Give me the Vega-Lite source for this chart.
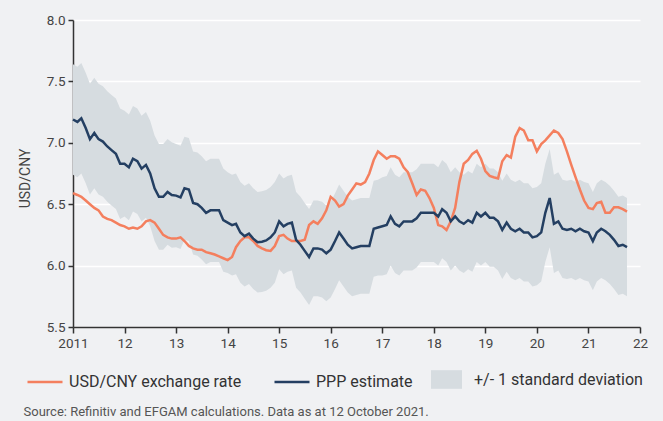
{
  "$schema": "https://vega.github.io/schema/vega-lite/v6.json",
  "width": 567,
  "height": 307,
  "autosize": {"type": "none"},
  "padding": {"left": 73, "top": 20, "right": 23, "bottom": 94},
  "background": "#f0f1f3",
  "config": {
    "view": {"stroke": null},
    "font": "Roboto"
  },
  "data": {
    "values": [
      {"d": "2011-01", "fx": 6.59, "ppp": 7.19, "lo": 6.74, "hi": 7.64},
      {"d": "2011-02", "fx": 6.575, "ppp": 7.17, "lo": 6.72, "hi": 7.62},
      {"d": "2011-03", "fx": 6.56, "ppp": 7.2, "lo": 6.75, "hi": 7.65},
      {"d": "2011-04", "fx": 6.53, "ppp": 7.12, "lo": 6.67, "hi": 7.57},
      {"d": "2011-05", "fx": 6.5, "ppp": 7.03, "lo": 6.58, "hi": 7.48},
      {"d": "2011-06", "fx": 6.47, "ppp": 7.08, "lo": 6.63, "hi": 7.53},
      {"d": "2011-07", "fx": 6.45, "ppp": 7.03, "lo": 6.58, "hi": 7.48},
      {"d": "2011-08", "fx": 6.4, "ppp": 7.01, "lo": 6.56, "hi": 7.46},
      {"d": "2011-09", "fx": 6.38, "ppp": 6.97, "lo": 6.52, "hi": 7.42},
      {"d": "2011-10", "fx": 6.37, "ppp": 6.94, "lo": 6.49, "hi": 7.39},
      {"d": "2011-11", "fx": 6.35, "ppp": 6.91, "lo": 6.46, "hi": 7.36},
      {"d": "2011-12", "fx": 6.33, "ppp": 6.83, "lo": 6.38, "hi": 7.28},
      {"d": "2012-01", "fx": 6.32, "ppp": 6.83, "lo": 6.4, "hi": 7.26},
      {"d": "2012-02", "fx": 6.3, "ppp": 6.8, "lo": 6.37, "hi": 7.23},
      {"d": "2012-03", "fx": 6.31, "ppp": 6.87, "lo": 6.44, "hi": 7.3},
      {"d": "2012-04", "fx": 6.3, "ppp": 6.85, "lo": 6.42, "hi": 7.28},
      {"d": "2012-05", "fx": 6.32, "ppp": 6.79, "lo": 6.36, "hi": 7.22},
      {"d": "2012-06", "fx": 6.36, "ppp": 6.82, "lo": 6.39, "hi": 7.25},
      {"d": "2012-07", "fx": 6.37, "ppp": 6.75, "lo": 6.32, "hi": 7.18},
      {"d": "2012-08", "fx": 6.35, "ppp": 6.63, "lo": 6.2, "hi": 7.06},
      {"d": "2012-09", "fx": 6.3, "ppp": 6.56, "lo": 6.13, "hi": 6.99},
      {"d": "2012-10", "fx": 6.25, "ppp": 6.56, "lo": 6.13, "hi": 6.99},
      {"d": "2012-11", "fx": 6.23, "ppp": 6.6, "lo": 6.17, "hi": 7.03},
      {"d": "2012-12", "fx": 6.22, "ppp": 6.575, "lo": 6.145, "hi": 7.005},
      {"d": "2013-01", "fx": 6.22, "ppp": 6.57, "lo": 6.15, "hi": 6.99},
      {"d": "2013-02", "fx": 6.23, "ppp": 6.555, "lo": 6.135, "hi": 6.975},
      {"d": "2013-03", "fx": 6.2, "ppp": 6.63, "lo": 6.21, "hi": 7.05},
      {"d": "2013-04", "fx": 6.16, "ppp": 6.62, "lo": 6.2, "hi": 7.04},
      {"d": "2013-05", "fx": 6.14, "ppp": 6.51, "lo": 6.09, "hi": 6.93},
      {"d": "2013-06", "fx": 6.13, "ppp": 6.5, "lo": 6.08, "hi": 6.92},
      {"d": "2013-07", "fx": 6.13, "ppp": 6.47, "lo": 6.05, "hi": 6.89},
      {"d": "2013-08", "fx": 6.11, "ppp": 6.43, "lo": 6.01, "hi": 6.85},
      {"d": "2013-09", "fx": 6.1, "ppp": 6.45, "lo": 6.03, "hi": 6.87},
      {"d": "2013-10", "fx": 6.09, "ppp": 6.45, "lo": 6.03, "hi": 6.87},
      {"d": "2013-11", "fx": 6.075, "ppp": 6.45, "lo": 6.03, "hi": 6.87},
      {"d": "2013-12", "fx": 6.06, "ppp": 6.37, "lo": 5.95, "hi": 6.79},
      {"d": "2014-01", "fx": 6.045, "ppp": 6.35, "lo": 5.94, "hi": 6.76},
      {"d": "2014-02", "fx": 6.07, "ppp": 6.33, "lo": 5.92, "hi": 6.74},
      {"d": "2014-03", "fx": 6.15, "ppp": 6.34, "lo": 5.93, "hi": 6.75},
      {"d": "2014-04", "fx": 6.2, "ppp": 6.27, "lo": 5.86, "hi": 6.68},
      {"d": "2014-05", "fx": 6.23, "ppp": 6.24, "lo": 5.83, "hi": 6.65},
      {"d": "2014-06", "fx": 6.23, "ppp": 6.26, "lo": 5.85, "hi": 6.67},
      {"d": "2014-07", "fx": 6.2, "ppp": 6.22, "lo": 5.81, "hi": 6.63},
      {"d": "2014-08", "fx": 6.16, "ppp": 6.19, "lo": 5.78, "hi": 6.6},
      {"d": "2014-09", "fx": 6.14, "ppp": 6.195, "lo": 5.785, "hi": 6.605},
      {"d": "2014-10", "fx": 6.125, "ppp": 6.205, "lo": 5.795, "hi": 6.615},
      {"d": "2014-11", "fx": 6.12, "ppp": 6.23, "lo": 5.82, "hi": 6.64},
      {"d": "2014-12", "fx": 6.16, "ppp": 6.27, "lo": 5.86, "hi": 6.68},
      {"d": "2015-01", "fx": 6.24, "ppp": 6.36, "lo": 5.97, "hi": 6.75},
      {"d": "2015-02", "fx": 6.25, "ppp": 6.32, "lo": 5.93, "hi": 6.71},
      {"d": "2015-03", "fx": 6.22, "ppp": 6.34, "lo": 5.95, "hi": 6.73},
      {"d": "2015-04", "fx": 6.2, "ppp": 6.35, "lo": 5.96, "hi": 6.74},
      {"d": "2015-05", "fx": 6.2, "ppp": 6.21, "lo": 5.82, "hi": 6.6},
      {"d": "2015-06", "fx": 6.2, "ppp": 6.17, "lo": 5.78, "hi": 6.56},
      {"d": "2015-07", "fx": 6.21, "ppp": 6.12, "lo": 5.73, "hi": 6.51},
      {"d": "2015-08", "fx": 6.33, "ppp": 6.07, "lo": 5.68, "hi": 6.46},
      {"d": "2015-09", "fx": 6.36, "ppp": 6.14, "lo": 5.75, "hi": 6.53},
      {"d": "2015-10", "fx": 6.34, "ppp": 6.14, "lo": 5.75, "hi": 6.53},
      {"d": "2015-11", "fx": 6.385, "ppp": 6.13, "lo": 5.74, "hi": 6.52},
      {"d": "2015-12", "fx": 6.45, "ppp": 6.1, "lo": 5.71, "hi": 6.49},
      {"d": "2016-01", "fx": 6.56, "ppp": 6.13, "lo": 5.74, "hi": 6.52},
      {"d": "2016-02", "fx": 6.53, "ppp": 6.2, "lo": 5.81, "hi": 6.59},
      {"d": "2016-03", "fx": 6.48, "ppp": 6.27, "lo": 5.88, "hi": 6.66},
      {"d": "2016-04", "fx": 6.5, "ppp": 6.22, "lo": 5.83, "hi": 6.61},
      {"d": "2016-05", "fx": 6.57, "ppp": 6.17, "lo": 5.78, "hi": 6.56},
      {"d": "2016-06", "fx": 6.62, "ppp": 6.14, "lo": 5.75, "hi": 6.53},
      {"d": "2016-07", "fx": 6.67, "ppp": 6.15, "lo": 5.76, "hi": 6.54},
      {"d": "2016-08", "fx": 6.66, "ppp": 6.16, "lo": 5.77, "hi": 6.55},
      {"d": "2016-09", "fx": 6.68, "ppp": 6.16, "lo": 5.77, "hi": 6.55},
      {"d": "2016-10", "fx": 6.75, "ppp": 6.16, "lo": 5.77, "hi": 6.55},
      {"d": "2016-11", "fx": 6.86, "ppp": 6.3, "lo": 5.91, "hi": 6.69},
      {"d": "2016-12", "fx": 6.93, "ppp": 6.31, "lo": 5.92, "hi": 6.7},
      {"d": "2017-01", "fx": 6.9, "ppp": 6.32, "lo": 5.92, "hi": 6.72},
      {"d": "2017-02", "fx": 6.87, "ppp": 6.33, "lo": 5.93, "hi": 6.73},
      {"d": "2017-03", "fx": 6.89, "ppp": 6.4, "lo": 6.0, "hi": 6.8},
      {"d": "2017-04", "fx": 6.89, "ppp": 6.34, "lo": 5.94, "hi": 6.74},
      {"d": "2017-05", "fx": 6.87, "ppp": 6.32, "lo": 5.92, "hi": 6.72},
      {"d": "2017-06", "fx": 6.8, "ppp": 6.36, "lo": 5.96, "hi": 6.76},
      {"d": "2017-07", "fx": 6.76, "ppp": 6.36, "lo": 5.96, "hi": 6.76},
      {"d": "2017-08", "fx": 6.67, "ppp": 6.36, "lo": 5.96, "hi": 6.76},
      {"d": "2017-09", "fx": 6.575, "ppp": 6.385, "lo": 5.985, "hi": 6.785},
      {"d": "2017-10", "fx": 6.62, "ppp": 6.43, "lo": 6.03, "hi": 6.83},
      {"d": "2017-11", "fx": 6.61, "ppp": 6.43, "lo": 6.03, "hi": 6.83},
      {"d": "2017-12", "fx": 6.55, "ppp": 6.43, "lo": 6.03, "hi": 6.83},
      {"d": "2018-01", "fx": 6.47, "ppp": 6.43, "lo": 6.03, "hi": 6.83},
      {"d": "2018-02", "fx": 6.33, "ppp": 6.4, "lo": 6.0, "hi": 6.8},
      {"d": "2018-03", "fx": 6.32, "ppp": 6.46, "lo": 6.06, "hi": 6.86},
      {"d": "2018-04", "fx": 6.29, "ppp": 6.43, "lo": 6.03, "hi": 6.83},
      {"d": "2018-05", "fx": 6.36, "ppp": 6.36, "lo": 5.96, "hi": 6.76},
      {"d": "2018-06", "fx": 6.47, "ppp": 6.4, "lo": 6.0, "hi": 6.8},
      {"d": "2018-07", "fx": 6.68, "ppp": 6.36, "lo": 5.96, "hi": 6.76},
      {"d": "2018-08", "fx": 6.83, "ppp": 6.34, "lo": 5.94, "hi": 6.74},
      {"d": "2018-09", "fx": 6.86, "ppp": 6.37, "lo": 5.97, "hi": 6.77},
      {"d": "2018-10", "fx": 6.91, "ppp": 6.35, "lo": 5.95, "hi": 6.75},
      {"d": "2018-11", "fx": 6.935, "ppp": 6.43, "lo": 6.03, "hi": 6.83},
      {"d": "2018-12", "fx": 6.87, "ppp": 6.4, "lo": 6.0, "hi": 6.8},
      {"d": "2019-01", "fx": 6.77, "ppp": 6.43, "lo": 6.03, "hi": 6.83},
      {"d": "2019-02", "fx": 6.73, "ppp": 6.39, "lo": 5.99, "hi": 6.79},
      {"d": "2019-03", "fx": 6.72, "ppp": 6.39, "lo": 5.99, "hi": 6.79},
      {"d": "2019-04", "fx": 6.71, "ppp": 6.36, "lo": 5.96, "hi": 6.76},
      {"d": "2019-05", "fx": 6.85, "ppp": 6.29, "lo": 5.89, "hi": 6.69},
      {"d": "2019-06", "fx": 6.9, "ppp": 6.35, "lo": 5.95, "hi": 6.75},
      {"d": "2019-07", "fx": 6.88, "ppp": 6.3, "lo": 5.9, "hi": 6.7},
      {"d": "2019-08", "fx": 7.05, "ppp": 6.28, "lo": 5.88, "hi": 6.68},
      {"d": "2019-09", "fx": 7.12, "ppp": 6.3, "lo": 5.9, "hi": 6.7},
      {"d": "2019-10", "fx": 7.1, "ppp": 6.27, "lo": 5.87, "hi": 6.67},
      {"d": "2019-11", "fx": 7.02, "ppp": 6.27, "lo": 5.87, "hi": 6.67},
      {"d": "2019-12", "fx": 7.02, "ppp": 6.23, "lo": 5.83, "hi": 6.63},
      {"d": "2020-01", "fx": 6.93, "ppp": 6.24, "lo": 5.84, "hi": 6.64},
      {"d": "2020-02", "fx": 6.99, "ppp": 6.27, "lo": 5.87, "hi": 6.67},
      {"d": "2020-03", "fx": 7.02, "ppp": 6.43, "lo": 6.03, "hi": 6.83},
      {"d": "2020-04", "fx": 7.06, "ppp": 6.55, "lo": 6.15, "hi": 6.95},
      {"d": "2020-05", "fx": 7.1, "ppp": 6.34, "lo": 5.94, "hi": 6.74},
      {"d": "2020-06", "fx": 7.08, "ppp": 6.36, "lo": 5.96, "hi": 6.76},
      {"d": "2020-07", "fx": 7.03, "ppp": 6.3, "lo": 5.9, "hi": 6.7},
      {"d": "2020-08", "fx": 6.93, "ppp": 6.29, "lo": 5.89, "hi": 6.69},
      {"d": "2020-09", "fx": 6.82, "ppp": 6.3, "lo": 5.9, "hi": 6.7},
      {"d": "2020-10", "fx": 6.72, "ppp": 6.28, "lo": 5.88, "hi": 6.68},
      {"d": "2020-11", "fx": 6.62, "ppp": 6.3, "lo": 5.9, "hi": 6.7},
      {"d": "2020-12", "fx": 6.53, "ppp": 6.28, "lo": 5.88, "hi": 6.68},
      {"d": "2021-01", "fx": 6.47, "ppp": 6.27, "lo": 5.87, "hi": 6.67},
      {"d": "2021-02", "fx": 6.46, "ppp": 6.2, "lo": 5.8, "hi": 6.6},
      {"d": "2021-03", "fx": 6.51, "ppp": 6.27, "lo": 5.87, "hi": 6.67},
      {"d": "2021-04", "fx": 6.52, "ppp": 6.3, "lo": 5.9, "hi": 6.7},
      {"d": "2021-05", "fx": 6.43, "ppp": 6.28, "lo": 5.88, "hi": 6.68},
      {"d": "2021-06", "fx": 6.43, "ppp": 6.25, "lo": 5.85, "hi": 6.65},
      {"d": "2021-07", "fx": 6.475, "ppp": 6.21, "lo": 5.81, "hi": 6.61},
      {"d": "2021-08", "fx": 6.475, "ppp": 6.16, "lo": 5.76, "hi": 6.56},
      {"d": "2021-09", "fx": 6.46, "ppp": 6.17, "lo": 5.77, "hi": 6.57},
      {"d": "2021-10", "fx": 6.44, "ppp": 6.15, "lo": 5.75, "hi": 6.55}
    ]
  },
  "encoding": {
    "x": {
      "field": "d",
      "type": "temporal",
      "scale": {
        "type": "utc",
        "domain": [
          {"year": 2011, "month": 1, "date": 1, "utc": true},
          {"year": 2022, "month": 1, "date": 1, "utc": true}
        ]
      },
      "axis": {
        "tickCount": {"interval": "year", "step": 1},
        "labelExpr": "utcFormat(datum.value, '%Y') == '2011' ? '2011' : utcFormat(datum.value, '%y')",
        "grid": false,
        "domainColor": "#333333",
        "domainWidth": 1.5,
        "tickColor": "#333333",
        "tickWidth": 1.5,
        "tickSize": 6,
        "labelFontSize": 13.5,
        "labelColor": "#444444",
        "labelPadding": 3,
        "labelFlush": false,
        "labelOverlap": false,
        "title": "Source: Refinitiv and EFGAM calculations. Data as at 12 October 2021.",
        "titleAnchor": "start",
        "titleAlign": "left",
        "titleX": -50,
        "titleY": 88,
        "titleBaseline": "alphabetic",
        "titleFontSize": 13,
        "titleFontWeight": "normal",
        "titleColor": "#555555",
        "titleLimit": 1000
      }
    }
  },
  "layer": [
    {
      "mark": {"type": "area", "opacity": 1},
      "encoding": {
        "y": {
          "field": "lo",
          "type": "quantitative",
          "scale": {"domain": [5.5, 8], "nice": false, "zero": false},
          "axis": {
            "values": [5.5, 6, 6.5, 7, 7.5, 8],
            "format": ".1f",
            "grid": true,
            "gridColor": "#ffffff",
            "gridWidth": 1.5,
            "domainColor": "#333333",
            "domainWidth": 1.5,
            "tickColor": "#333333",
            "tickWidth": 1.5,
            "tickSize": 5,
            "labelFontSize": 13.5,
            "labelColor": "#444444",
            "labelPadding": 3,
            "title": "USD/CNY",
            "titleX": -48,
            "titleY": 158,
            "titleAngle": 270,
            "titleAlign": "center",
            "titleBaseline": "middle",
            "titleFontSize": 14,
            "titleFontWeight": "normal",
            "titleColor": "#444444"
          }
        },
        "y2": {"field": "hi"},
        "fill": {
          "datum": "+/- 1 standard deviation",
          "type": "nominal",
          "scale": {"range": ["#d6dce0"]},
          "legend": {
            "orient": "none",
            "legendX": 358,
            "legendY": 344,
            "title": null,
            "padding": 0,
            "symbolType": "M-1,-0.6L1,-0.6L1,0.6L-1,0.6Z",
            "symbolSize": 961,
            "symbolStrokeWidth": 0,
            "symbolOpacity": 1,
            "labelFontSize": 16,
            "labelColor": "#333333",
            "labelOffset": 12,
            "labelLimit": 400
          }
        }
      }
    },
    {
      "mark": {"type": "line", "strokeWidth": 2.5},
      "encoding": {
        "y": {"field": "fx", "type": "quantitative"},
        "color": {
          "datum": "USD/CNY exchange rate",
          "type": "nominal",
          "scale": {
            "domain": ["USD/CNY exchange rate", "PPP estimate"],
            "range": ["#f47f5e", "#243f62"]
          },
          "legend": {
            "orient": "none",
            "legendX": -47,
            "legendY": 343,
            "direction": "horizontal",
            "title": null,
            "padding": 0,
            "symbolType": "stroke",
            "symbolSize": 1225,
            "symbolStrokeWidth": 2.5,
            "labelFontSize": 16,
            "labelColor": "#333333",
            "labelOffset": 5,
            "labelLimit": 400,
            "columnPadding": 27
          }
        }
      }
    },
    {
      "mark": {"type": "line", "strokeWidth": 2.5},
      "encoding": {
        "y": {"field": "ppp", "type": "quantitative"},
        "color": {"datum": "PPP estimate", "type": "nominal"}
      }
    }
  ]
}
